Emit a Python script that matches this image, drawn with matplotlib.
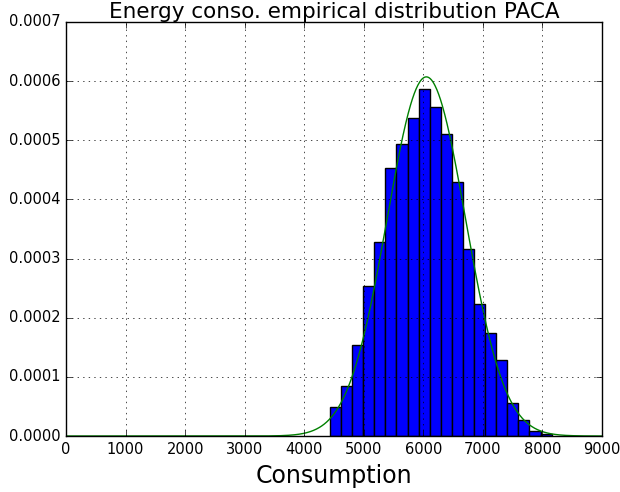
import numpy as np
from matplotlib import pyplot as plt

plt.style.use('classic')

# histogram bins (left edge of first bin, width) and densities
bin_start = 4433
bin_width = 186
densities = [0.0000485, 0.0000845, 0.000154, 0.000254, 0.0003275,
             0.0004526, 0.000493, 0.000537, 0.000587, 0.000556,
             0.000511, 0.00043, 0.000316, 0.0002227, 0.000174,
             0.0001285, 0.0000558, 0.0000276, 0.0000085, 0.000003]

# fitted normal law
mu = 6050
sigma = 657

edges = bin_start + bin_width * np.arange(len(densities) + 1)

fig = plt.figure(figsize=(6.2, 4.92), dpi=100, facecolor='white')
ax = fig.add_axes([0.1065, 0.1138, 0.8645, 0.8415])

ax.hist(edges[:-1], bins=edges, weights=densities, color='blue',
        edgecolor='black')

xs = np.linspace(0, 9000, 900)
pdf = np.exp(-(xs - mu) ** 2 / (2 * sigma ** 2)) / (sigma * np.sqrt(2 * np.pi))
ax.plot(xs, pdf, color='green')

ax.set_xlim(0, 9000)
ax.set_ylim(0, 0.0007)
ax.grid(True)
ax.tick_params(labelsize=10.5)
ax.set_title("Energy conso. empirical distribution PACA", fontsize=15.5, pad=3)
ax.set_xlabel("Consumption", fontsize=17)

fig.savefig("out.png", dpi=100, facecolor='white')
